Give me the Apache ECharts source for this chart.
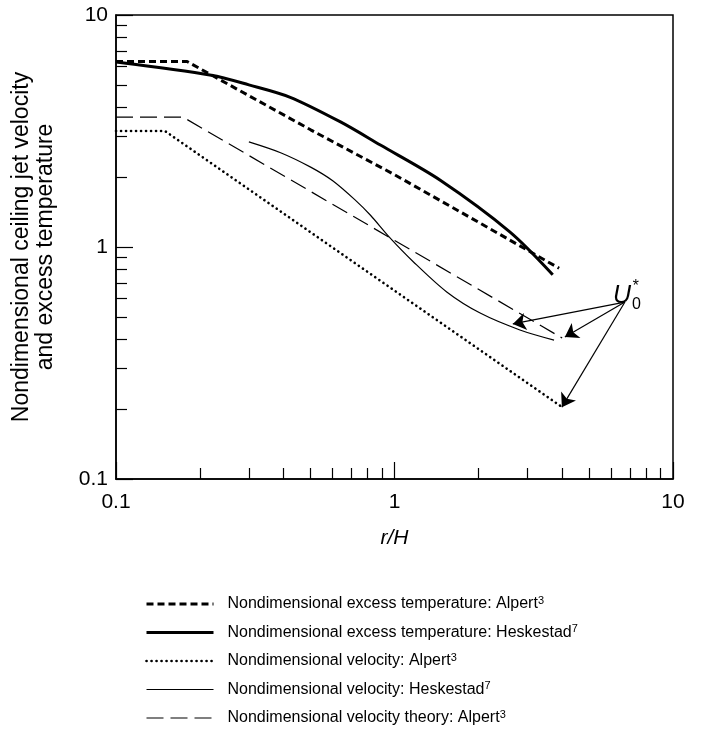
<!DOCTYPE html>
<html>
<head>
<meta charset="utf-8">
<script src="https://cdn.jsdelivr.net/npm/echarts@6/dist/echarts.min.js"></script>
<style>
html, body { margin: 0; padding: 0; background: #fff; }
#chart { width: 704px; height: 733px; }
</style>
</head>
<body>
<div id="chart"></div>
<script>
// curves, [r/H, value] on log-log axes
let tempAlpert = [[0.1, 6.3], [0.18, 6.3], [0.5, 3.2], [1, 2.05], [2, 1.28], [3.9, 0.81]];
let tempHeskestad = [[0.1, 6.27], [0.22, 5.5], [0.3, 5.0], [0.42, 4.43], [0.64, 3.46], [0.89, 2.75], [1.46, 1.94], [2.6, 1.16], [3.7, 0.76]];
let velAlpert = [[0.1, 3.16], [0.15, 3.16], [4.0, 0.204]];
let velHeskestad = [[0.3, 2.84], [0.39, 2.55], [0.5, 2.21], [0.6, 1.93], [0.72, 1.6], [0.82, 1.37], [0.96, 1.10], [1.17, 0.862], [1.54, 0.64], [2.03, 0.519], [2.82, 0.439], [3.74, 0.397]];
let velTheory = [[0.1, 3.63], [0.174, 3.63], [4.0, 0.405]];

// U0* arrows: from label to curve ends
let arrowFrom = [6.72, 0.579];
let arrowTo = [[2.66, 0.466], [4.09, 0.409], [3.99, 0.204]];
let labelAt = [6.56, 0.615];

let majorTicks = [0.1, 1, 10];
let minorTicks = [0.2, 0.3, 0.4, 0.5, 0.6, 0.7, 0.8, 0.9, 2, 3, 4, 5, 6, 7, 8, 9];

let names = [
    ['Nondimensional excess temperature: Alpert', '3'],
    ['Nondimensional excess temperature: Heskestad', '7'],
    ['Nondimensional velocity: Alpert', '3'],
    ['Nondimensional velocity: Heskestad', '7'],
    ['Nondimensional velocity theory: Alpert', '3']
];

let font = 'Liberation Sans, Arial, sans-serif';

let styles = [
    { width: 3, type: [7, 4] },
    { width: 3, type: 'solid' },
    { width: 2.6, type: [0.1, 4.9], cap: 'round' },
    { width: 1.2, type: 'solid' },
    { width: 1.2, type: [17, 7] }
];

let logAxis = (extra) => ({
    type: 'log',
    logBase: 10,
    min: 0.1,
    max: 10,
    splitLine: { show: false },
    ...extra
});

let minorAxis = (pos) => logAxis({
    position: pos,
    axisLine: { show: false },
    axisLabel: { show: false },
    axisTick: { show: true, inside: true, length: 11, customValues: minorTicks,
        lineStyle: { color: '#000', width: 1.2 } }
});

let line = (i, data, smooth) => ({
    name: names[i].join(''),
    type: 'line',
    data: data,
    symbol: 'none',
    smooth: smooth || false,
    lineStyle: { color: '#000', cap: 'butt', ...styles[i] },
    itemStyle: { color: '#000' },
    silent: true
});

let chart = echarts.init(document.getElementById('chart'));

let option = {
    animation: false,
    grid: {
        left: 116, right: 31, top: 15, bottom: 254,
        show: true, borderColor: '#000', borderWidth: 1.5,
        containLabel: false, outerBoundsMode: 'none'
    },
    legend: {
        orient: 'vertical',
        left: 140,
        top: 590,
        itemWidth: 67,
        itemHeight: 14,
        itemGap: 11.5,
        itemStyle: { color: 'rgba(0,0,0,0)', borderColor: 'rgba(0,0,0,0)', borderWidth: 0 },
        data: names.map((n, i) => ({
            name: n.join(''),
            lineStyle: { color: '#000', ...styles[i] }
        })),
        formatter: n => {
            let p = names.find(x => x[0] + x[1] === n);
            return '{t|' + p[0] + '}{s|' + p[1] + '}';
        },
        textStyle: {
            color: '#000',
            fontFamily: font,
            rich: {
                t: { fontSize: 16, fontFamily: font, color: '#000', lineHeight: 18, padding: [0, 0, 0, 9] },
                s: { fontSize: 11, fontFamily: font, color: '#000', verticalAlign: 'top', lineHeight: 18 }
            }
        }
    },
    xAxis: [
        logAxis({
            position: 'bottom',
            name: 'r/H',
            nameLocation: 'middle',
            nameGap: 49,
            nameTextStyle: { fontSize: 21, fontStyle: 'italic', color: '#000', fontFamily: font },
            axisLine: { show: true, lineStyle: { color: '#000', width: 1.5 } },
            axisTick: { show: true, inside: true, length: 17, customValues: majorTicks,
                lineStyle: { color: '#000', width: 1.2 } },
            axisLabel: { show: true, margin: 13, fontSize: 21, color: '#000', fontFamily: font,
                customValues: majorTicks, formatter: v => String(v) }
        }),
        minorAxis('bottom')
    ],
    yAxis: [
        logAxis({
            position: 'left',
            name: 'Nondimensional ceiling jet velocity\nand excess temperature',
            nameLocation: 'middle',
            nameRotate: 90,
            nameGap: 58,
            nameTextStyle: { fontSize: 23, color: '#000', fontFamily: font, lineHeight: 24, align: 'center' },
            axisLine: { show: true, lineStyle: { color: '#000', width: 1.5 } },
            axisTick: { show: true, inside: true, length: 17, customValues: majorTicks,
                lineStyle: { color: '#000', width: 1.2 } },
            axisLabel: { show: true, margin: 8, fontSize: 21, color: '#000', fontFamily: font,
                customValues: majorTicks, formatter: v => String(v) }
        }),
        minorAxis('left')
    ],
    series: [
        line(0, tempAlpert),
        line(1, tempHeskestad, 0.3),
        line(2, velAlpert),
        {
            ...line(3, velHeskestad, 0.3),
            markLine: {
                silent: true,
                symbol: ['none', 'arrow'],
                symbolSize: 13,
                label: { show: false },
                lineStyle: { color: '#000', width: 1.2, type: 'solid' },
                itemStyle: { color: '#000' },
                data: arrowTo.map(p => [{ coord: arrowFrom }, { coord: p }])
            }
        },
        line(4, velTheory)
    ]
};

chart.setOption(option);

// U0* label placed through the axes' own conversion
let at = chart.convertToPixel({ xAxisIndex: 0, yAxisIndex: 0 }, labelAt);
chart.setOption({
    graphic: [
        { type: 'text', x: at[0] - 9, y: at[1], style: { text: 'U', fontSize: 25, fontStyle: 'italic',
            fontFamily: font, fill: '#000', verticalAlign: 'middle' } },
        { type: 'text', x: at[0] + 10, y: at[1] - 9, style: { text: '*', fontSize: 16, fontStyle: 'italic',
            fontFamily: font, fill: '#000', verticalAlign: 'middle' } },
        { type: 'text', x: at[0] + 10, y: at[1] + 9, style: { text: '0', fontSize: 16,
            fontFamily: font, fill: '#000', verticalAlign: 'middle' } }
    ]
});
</script>
</body>
</html>
